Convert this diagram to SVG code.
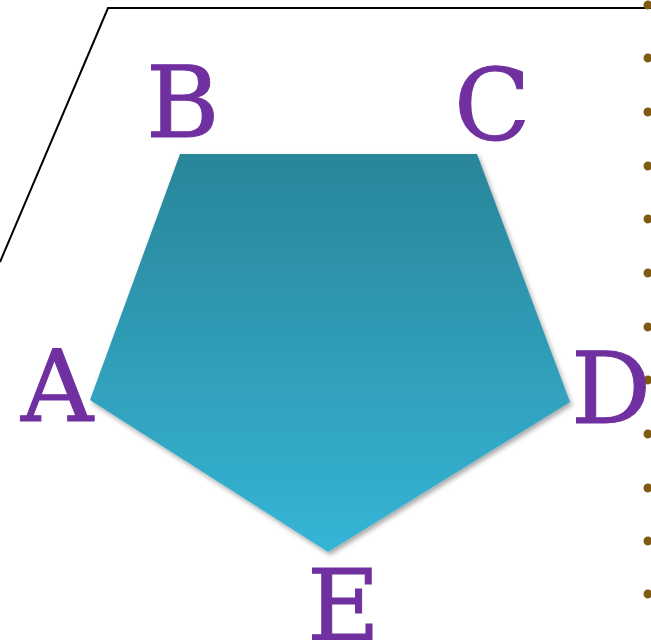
<svg xmlns="http://www.w3.org/2000/svg" width="651" height="640" viewBox="0 0 651 640">
<defs>
<linearGradient id="g" x1="0" y1="0" x2="0" y2="1">
<stop offset="0" stop-color="#2a8599"/>
<stop offset="1" stop-color="#35b5d6"/>
</linearGradient>
<filter id="sh" x="-10%" y="-10%" width="120%" height="120%">
<feGaussianBlur in="SourceAlpha" stdDeviation="2.5"/>
<feOffset dx="2" dy="3" result="b"/>
<feFlood flood-color="#000" flood-opacity="0.35"/>
<feComposite in2="b" operator="in"/>
<feMerge><feMergeNode/><feMergeNode in="SourceGraphic"/></feMerge>
</filter>
<style>
.lbl{font-family:"DejaVu Serif","Liberation Serif",serif;font-size:100px;fill:#7030a0;stroke:#7030a0;stroke-width:1}
.dot{fill:#7f5a12}
</style>
</defs>
<rect width="651" height="640" fill="#fff"/>
<g id="frame">
<polyline points="0,262 108,8 651,8" fill="none" stroke="#000" stroke-width="2"/>
</g>
<g id="dots">
<circle class="dot" cx="648" cy="5" r="4.5"/>
<circle class="dot" cx="648" cy="58" r="4.5"/>
<circle class="dot" cx="648" cy="112" r="4.5"/>
<circle class="dot" cx="648" cy="166" r="4.5"/>
<circle class="dot" cx="648" cy="219" r="4.5"/>
<circle class="dot" cx="648" cy="273" r="4.5"/>
<circle class="dot" cx="648" cy="327" r="4.5"/>
<circle class="dot" cx="648" cy="380" r="4.5"/>
<circle class="dot" cx="648" cy="434" r="4.5"/>
<circle class="dot" cx="648" cy="488" r="4.5"/>
<circle class="dot" cx="648" cy="541" r="4.5"/>
<circle class="dot" cx="648" cy="594" r="4.5"/>
</g>
<g id="pentagon">
<polygon points="180,154 477,154 570,402 328,552 90,400" fill="url(#g)" filter="url(#sh)"/>
</g>
<g id="labels">
<text class="lbl" x="146" y="137">B</text>
<text class="lbl" x="454" y="140">C</text>
<text class="lbl" x="21" y="421">A</text>
<text class="lbl" x="571" y="423">D</text>
<text class="lbl" x="307" y="640">E</text>
</g>
</svg>
